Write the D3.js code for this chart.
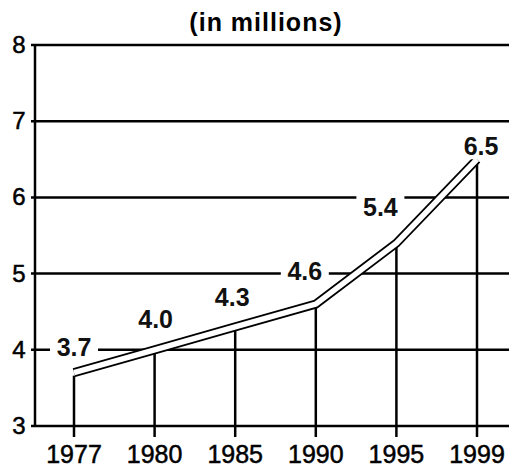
<!DOCTYPE html>
<html>
<head>
<meta charset="utf-8">
<script src="https://cdn.jsdelivr.net/npm/d3@7"></script>
<style>
  body { margin: 0; background: #fff; }
  svg { display: block; font-family: "Liberation Sans", Arial, sans-serif; }
</style>
</head>
<body>
<div id="chart"></div>
<script>
// data
var years = ["1977", "1980", "1985", "1990", "1995", "1999"];
var values = [3.7, 4.0, 4.3, 4.6, 5.4, 6.5];
var valueLabels = ["3.7", "4.0", "4.3", "4.6", "5.4", "6.5"];
var yTicks = [3, 4, 5, 6, 7, 8];
var title = "(in millions)";

var width = 509, height = 470;

var svg = d3.select("#chart").append("svg")
    .attr("width", width)
    .attr("height", height);

// scales
var x = d3.scalePoint().domain(years).range([74, 477]);
var y = d3.scaleLinear().domain([3, 8]).range([426, 45]);
var left = 35, right = width;

// title
svg.append("text")
    .attr("x", 266)
    .attr("y", 31)
    .attr("text-anchor", "middle")
    .style("font-size", "25px")
    .style("font-weight", "bold")
    .style("letter-spacing", "1px")
    .text(title);

// gridlines (incl. base line)
svg.append("g").selectAll("line")
    .data(yTicks)
    .enter().append("line")
    .attr("x1", left - 4)
    .attr("x2", right)
    .attr("y1", function(d) { return y(d); })
    .attr("y2", function(d) { return y(d); })
    .style("stroke", "#000")
    .style("stroke-width", 2.5);

// y axis line
svg.append("line")
    .attr("x1", left).attr("x2", left)
    .attr("y1", y(8) - 1).attr("y2", y(3) + 1)
    .style("stroke", "#000")
    .style("stroke-width", 2.5);

// y labels
svg.append("g").selectAll("text")
    .data(yTicks)
    .enter().append("text")
    .attr("x", 19)
    .attr("y", function(d) { return y(d) + 8; })
    .attr("text-anchor", "middle")
    .style("font-size", "24px")
    .style("stroke", "#000")
    .style("stroke-width", 0.5)
    .text(function(d) { return d; });

// drop lines + x ticks
svg.append("g").selectAll("line")
    .data(years)
    .enter().append("line")
    .attr("x1", function(d) { return x(d); })
    .attr("x2", function(d) { return x(d); })
    .attr("y1", function(d, i) { return y(values[i]) + 3; })
    .attr("y2", y(3) + 11)
    .style("stroke", "#000")
    .style("stroke-width", 2.5);

// x labels
svg.append("g").selectAll("text")
    .data(years)
    .enter().append("text")
    .attr("x", function(d) { return x(d); })
    .attr("y", 463)
    .attr("text-anchor", "middle")
    .style("font-size", "25px")
    .style("stroke", "#000")
    .style("stroke-width", 0.5)
    .text(function(d) { return d; });

// the band line (outlined)
var pts = years.map(function(d, i) { return [x(d), y(values[i])]; });
var line = d3.line();
svg.append("path")
    .attr("d", line(pts))
    .style("fill", "none")
    .style("stroke", "#000")
    .style("stroke-width", 9)
    .style("stroke-linejoin", "miter");
svg.append("path")
    .attr("d", line(pts))
    .style("fill", "none")
    .style("stroke", "#fff")
    .style("stroke-width", 5.5)
    .style("stroke-linejoin", "miter");

// value labels
var nudge = [[0, -26], [1, -31], [-3, -30], [-11, -33], [-16, -36], [4, -13]];
var lab = svg.append("g").selectAll("g")
    .data(years)
    .enter().append("g")
    .attr("transform", function(d, i) {
        return "translate(" + (x(d) + nudge[i][0]) + "," + (y(values[i]) + nudge[i][1]) + ")";
    });
lab.append("rect")
    .attr("x", -24).attr("y", -13)
    .attr("width", 48).attr("height", 26)
    .style("fill", "#fff");
lab.append("text")
    .attr("y", 9)
    .attr("text-anchor", "middle")
    .style("font-size", "25px")
    .style("font-weight", "bold")
    .style("fill", "#111")
    .text(function(d, i) { return valueLabels[i]; });
</script>
</body>
</html>
